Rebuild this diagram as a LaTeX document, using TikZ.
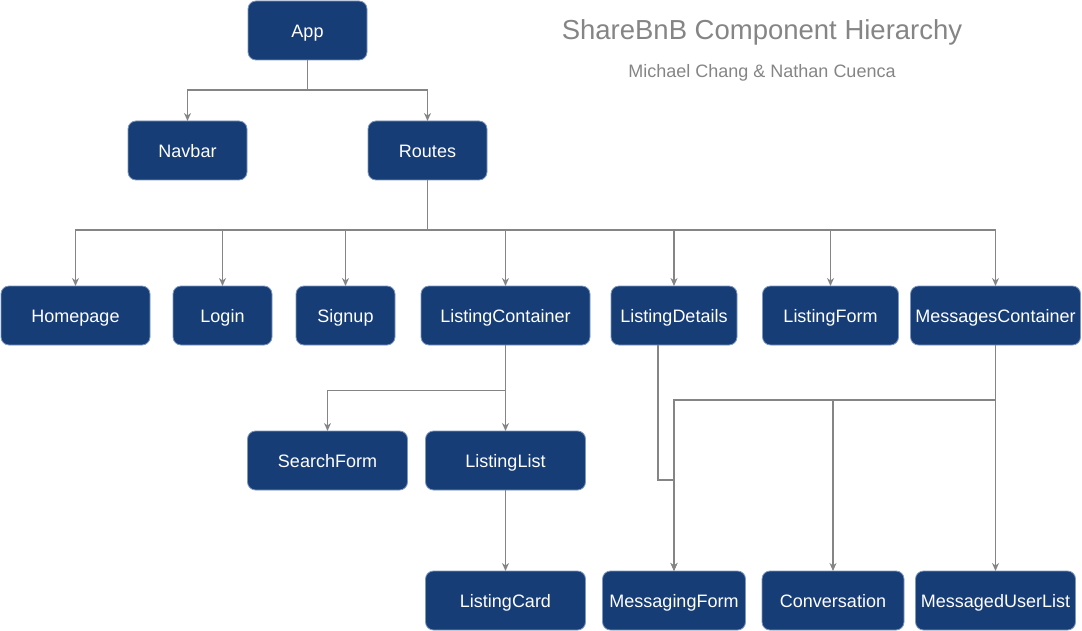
\documentclass[tikz,border=0pt]{standalone}
\usepackage{fontspec}
\setmainfont{Liberation Sans}
\usetikzlibrary{arrows.meta}
\definecolor{boxblue}{HTML}{173D76}
\definecolor{boxline}{HTML}{7E97BF}
\definecolor{linegray}{HTML}{858585}

\begin{document}
\begin{tikzpicture}[x=1pt, y=-1pt,
  comp/.style={draw=boxline, line width=0.8pt, fill=boxblue, rounded corners=8pt,
    text=white, font=\fontsize{18}{20}\selectfont, minimum height=59pt,
    text height=14pt, text depth=0.5pt, inner sep=0pt, outer sep=0pt},
  wire/.style={draw=linegray, line width=1.1pt},
  link/.style={wire, -{Stealth[length=8pt, width=7pt, inset=2.5pt]}}]
  \useasboundingbox (0,0) rectangle (1082,631);
  % heading
  \node[text=linegray, font=\fontsize{27.5}{30}\selectfont] (title) at (762,32) {ShareBnB Component Hierarchy};
  \node[text=linegray, font=\fontsize{18}{20}\selectfont] (authors) at (762,72.5) {Michael Chang \& Nathan Cuenca};
  % top levels
  \node[comp, minimum width=119pt] (app) at (307.5,30.5) {App};
  \node[comp, minimum width=119pt] (navbar) at (187.5,150.5) {Navbar};
  \node[comp, minimum width=119pt] (routes) at (427.5,150.5) {Routes};
  % routes
  \node[comp, minimum width=149pt] (homepage) at (75.5,315.5) {Homepage};
  \node[comp, minimum width=99pt] (login) at (222.5,315.5) {Login};
  \node[comp, minimum width=99pt] (signup) at (345.5,315.5) {Signup};
  \node[comp, minimum width=169pt] (listcont) at (505.5,315.5) {ListingContainer};
  \node[comp, minimum width=126pt] (listdetails) at (674,315.5) {ListingDetails};
  \node[comp, minimum width=136pt] (listform) at (830.5,315.5) {ListingForm};
  \node[comp, minimum width=170pt] (msgcont) at (995.5,315.5) {MessagesContainer};
  % listings
  \node[comp, minimum width=160pt] (searchform) at (327.5,460.5) {SearchForm};
  \node[comp, minimum width=160pt] (listlist) at (505.5,460.5) {ListingList};
  \node[comp, minimum width=160pt] (listcard) at (505.5,600.5) {ListingCard};
  % messages
  \node[comp, minimum width=143pt] (msgform) at (674,600.5) {MessagingForm};
  \node[comp, minimum width=142pt] (conversation) at (833,600.5) {Conversation};
  \node[comp, minimum width=160pt] (msgusers) at (995.5,600.5) {MessagedUserList};

  % forks
  \coordinate (appfork) at (307.5,90);
  \coordinate (routesfork) at (427.5,230);
  \coordinate (listfork) at (505.5,390.5);
  \coordinate (msgfork) at (995.5,400);
  \coordinate (detailsbend) at (658,480);

  \draw[wire] (app.south) -- (appfork);
  \foreach \n in {navbar, routes}{
    \draw[link] (appfork) -| (\n.north);
  }
  \draw[wire] (routes.south) -- (routesfork);
  \foreach \n in {homepage, login, signup, listcont, listdetails, listform, msgcont}{
    \draw[link] (routesfork) -| (\n.north);
  }
  \draw[wire] (listcont.south) -- (listfork);
  \foreach \n in {searchform, listlist}{
    \draw[link] (listfork) -| (\n.north);
  }
  \draw[link] (listlist) -- (listcard);
  \draw[wire] (msgcont.south) -- (msgfork);
  \foreach \n in {msgform, conversation, msgusers}{
    \draw[link] (msgfork) -| (\n.north);
  }
  % ListingDetails -> MessagingForm
  \draw[link] (listdetails.south -| detailsbend) -- (detailsbend) -| (msgform.north);
\end{tikzpicture}
\end{document}
